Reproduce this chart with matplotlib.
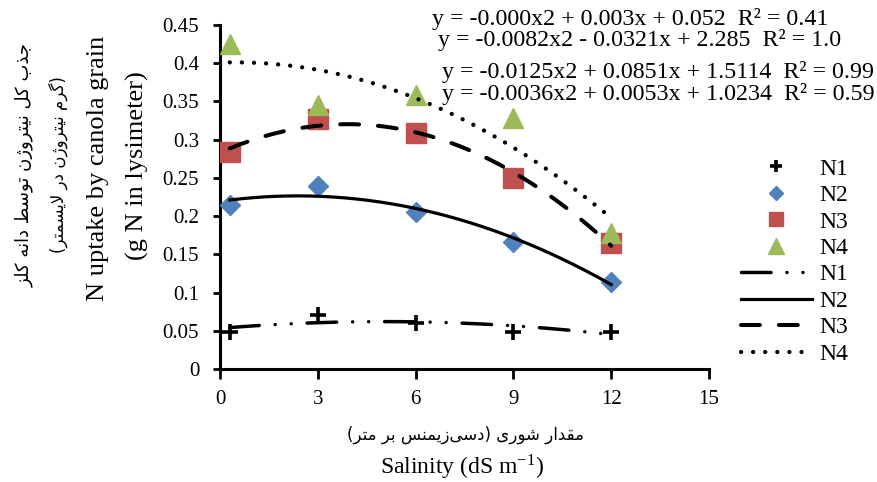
import matplotlib
matplotlib.use('Agg')
import matplotlib.pyplot as plt
import numpy as np

plt.rcParams['font.family'] = ['Liberation Serif', 'DejaVu Sans']
plt.rcParams['mathtext.fontset'] = 'stix'

# data
salinity = [0.3, 3, 6, 9, 12]
n1 = [0.049, 0.071, 0.060, 0.049, 0.049]
n2 = [0.215, 0.239, 0.205, 0.166, 0.114]
n3 = [0.284, 0.327, 0.309, 0.250, 0.165]
n4 = [0.425, 0.345, 0.358, 0.328, 0.178]
series_names = ['N1', 'N2', 'N3', 'N4']

equations = ['y = -0.000x2 + 0.003x + 0.052  R\u00b2 = 0.41',
             'y = -0.0082x2 - 0.0321x + 2.285  R\u00b2 = 1.0',
             'y = -0.0125x2 + 0.0851x + 1.5114  R\u00b2 = 0.99',
             'y = -0.0036x2 + 0.0053x + 1.0234  R\u00b2 = 0.59']

ylabel_fa1 = 'جذب کل نیتروژن توسط دانه کلز'
ylabel_fa2 = '(گرم نیتروژن در لایسمتر)'
xlabel_fa = 'مقدار شوری (دسی\u200cزیمنس بر متر)'

xticks = [0, 3, 6, 9, 12, 15]
yticks = [0, 0.05, 0.1, 0.15, 0.2, 0.25, 0.3, 0.35, 0.4, 0.45]


# matplotlib has no arabic shaping, so pick presentation forms by hand
# letter: (isolated, final, initial, medial)
FORMS = {
    'ا': ('\uFE8D', '\uFE8E', None, None),
    'ب': ('\uFE8F', '\uFE90', '\uFE91', '\uFE92'),
    'ت': ('\uFE95', '\uFE96', '\uFE97', '\uFE98'),
    'ج': ('\uFE9D', '\uFE9E', '\uFE9F', '\uFEA0'),
    'د': ('\uFEA9', '\uFEAA', None, None),
    'ذ': ('\uFEAB', '\uFEAC', None, None),
    'ر': ('\uFEAD', '\uFEAE', None, None),
    'ز': ('\uFEAF', '\uFEB0', None, None),
    'ژ': ('\uFB8A', '\uFB8B', None, None),
    'س': ('\uFEB1', '\uFEB2', '\uFEB3', '\uFEB4'),
    'ش': ('\uFEB5', '\uFEB6', '\uFEB7', '\uFEB8'),
    'ط': ('\uFEC1', '\uFEC2', '\uFEC3', '\uFEC4'),
    'ق': ('\uFED5', '\uFED6', '\uFED7', '\uFED8'),
    'ک': ('\uFB8E', '\uFB8F', '\uFB90', '\uFB91'),
    'گ': ('\uFB92', '\uFB93', '\uFB94', '\uFB95'),
    'ل': ('\uFEDD', '\uFEDE', '\uFEDF', '\uFEE0'),
    'م': ('\uFEE1', '\uFEE2', '\uFEE3', '\uFEE4'),
    'ن': ('\uFEE5', '\uFEE6', '\uFEE7', '\uFEE8'),
    'ه': ('\uFEE9', '\uFEEA', '\uFEEB', '\uFEEC'),
    'و': ('\uFEED', '\uFEEE', None, None),
    'ی': ('\uFBFC', '\uFBFD', '\uFBFE', '\uFBFF'),
}


def persian(text):
    res = []
    i = 0
    n = len(text)
    while i < n:
        c = text[i]
        if c not in FORMS:
            if c != '\u200c':
                res.append(c)
            i += 1
            continue
        prev = text[i - 1] if i > 0 else ''
        join_prev = prev in FORMS and FORMS[prev][2] is not None
        if c == 'ل' and i + 1 < n and text[i + 1] == 'ا':
            res.append('\uFEFC' if join_prev else '\uFEFB')
            i += 2
            continue
        nxt = text[i + 1] if i + 1 < n else ''
        join_next = FORMS[c][2] is not None and nxt in FORMS
        iso, fin, ini, med = FORMS[c]
        if join_prev and join_next:
            res.append(med)
        elif join_prev:
            res.append(fin)
        elif join_next:
            res.append(ini)
        else:
            res.append(iso)
        i += 1
    mirror = {'(': ')', ')': '('}
    return ''.join(mirror.get(ch, ch) for ch in reversed(res))


W, H = 877, 482
fig = plt.figure(figsize=(W / 100, H / 100), dpi=100)
ax = fig.add_axes([220 / W, 1 - 369 / H, (709 - 220) / W, (369 - 25) / H])

# markers
ax.plot(salinity, n1, linestyle='none', marker='+', color='black', markersize=11,
        markeredgewidth=2.6, label='N1', zorder=3)
ax.plot(salinity, n2, linestyle='none', marker='D', color='#4F81BD', markersize=10,
        label='N2', zorder=3)
ax.plot(salinity, n3, linestyle='none', marker='s', color='#C0504D', markersize=14,
        label='N3', zorder=3)
ax.plot(salinity, n4, linestyle='none', marker='^', color='#9BBB59', markersize=15,
        label='N4', zorder=3)

# polynomial trend lines (order 2)
styles = [dict(lw=2.5, ls=(0, (8.5, 4.6, 0.01, 4.6, 0.01, 4.6)), dash_capstyle='round'),
          dict(lw=2.3, ls='-'),
          dict(lw=2.9, ls=(0, (4.7, 4.7)), dash_capstyle='round'),
          dict(lw=3.1, ls=(0, (0.01, 2.8)), dash_capstyle='round')]
xs = np.linspace(min(salinity), max(salinity), 200)
for vals, name, st in zip([n1, n2, n3, n4], series_names, styles):
    coef = np.polyfit(salinity, vals, 2)
    ax.plot(xs, np.polyval(coef, xs), color='black', label=name, zorder=4, **st)

ax.set_xlim(0, 15)
ax.set_ylim(0, 0.45)
ax.set_xticks(xticks)
ax.set_yticks(yticks)
ax.set_yticklabels(['{:g}'.format(v) for v in yticks])
ax.tick_params(axis='both', labelsize=15, width=2, direction='out')
ax.tick_params(axis='y', length=5, pad=10)
ax.tick_params(axis='x', length=7, pad=8)
for s in ['top', 'right']:
    ax.spines[s].set_visible(False)
for s in ['left', 'bottom']:
    ax.spines[s].set_linewidth(2.2)

handles, labels = ax.get_legend_handles_labels()
ax.legend(handles, labels, loc='upper left', bbox_to_anchor=(741 / W, 1 - 158 / H),
          bbox_transform=fig.transFigure, frameon=False, fontsize=17,
          handlelength=3.0, handletextpad=0.3, labelspacing=0.21, markerscale=0.75,
          borderaxespad=0, borderpad=0)

# trendline equations
eq_pos = [(432, 19), (438, 40), (442, 72), (442, 94)]
for txt, (px, py) in zip(equations, eq_pos):
    fig.text(px / W, 1 - py / H, txt, fontsize=17.3, ha='left', va='center')

# axis titles
fig.text(465 / W, 1 - 435 / H, persian(xlabel_fa), family='DejaVu Sans', fontsize=12,
         ha='center', va='center')
fig.text(462 / W, 1 - 467 / H, r'Salinity (dS m$^{\mathregular{-1}}$)', fontsize=17,
         ha='center', va='center')
fig.text(24 / W, 1 - 165 / H, persian(ylabel_fa1), family='DejaVu Sans', fontsize=13,
         rotation=90, ha='center', va='center')
fig.text(58 / W, 1 - 165 / H, persian(ylabel_fa2), family='DejaVu Sans', fontsize=12,
         rotation=90, ha='center', va='center')
fig.text(98 / W, 1 - 168 / H, 'N uptake by canola grain', fontsize=19,
         rotation=90, ha='center', va='center')
fig.text(137 / W, 1 - 166 / H, '(g N in lysimeter)', fontsize=19,
         rotation=90, ha='center', va='center')

plt.savefig('out.png', dpi=100)
